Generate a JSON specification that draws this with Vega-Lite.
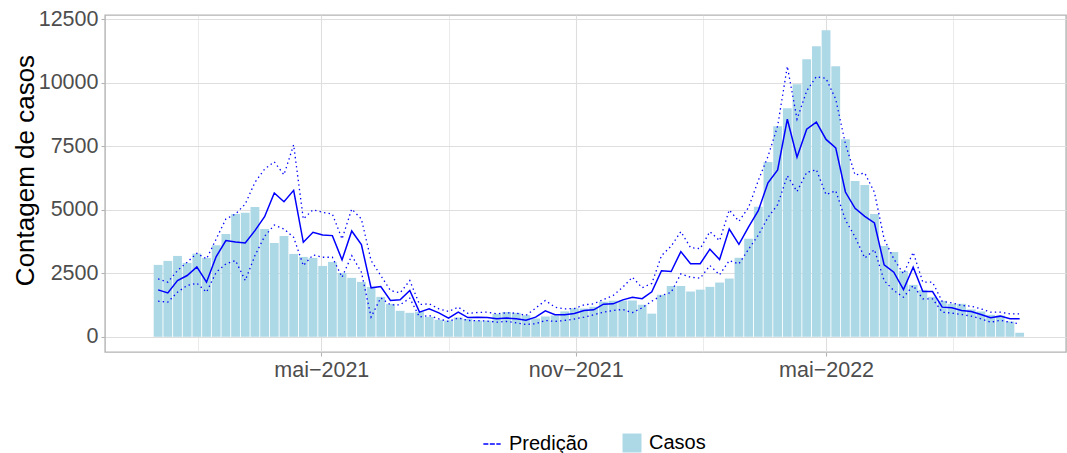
{
  "$schema": "https://vega.github.io/schema/vega-lite/v6.json",
  "width": 961,
  "height": 337,
  "autosize": {"type": "none"},
  "padding": {"left": 105, "top": 15, "right": 1, "bottom": 101},
  "background": "white",
  "config": {
    "font": "Liberation Sans",
    "view": {"stroke": "#b3b3b3", "strokeWidth": 1.4},
    "axis": {
      "domain": false,
      "gridColor": "#dedede",
      "tickColor": "#b3b3b3",
      "tickSize": 4,
      "tickWidth": 1.1,
      "labelColor": "#4d4d4d",
      "labelFontSize": 21.5,
      "labelFont": "Liberation Sans",
      "titleFont": "Liberation Sans",
      "titleColor": "#000000",
      "titleFontWeight": "normal",
      "titleFontSize": 26
    },
    "legend": {
      "labelFont": "Liberation Sans",
      "labelFontSize": 20,
      "labelColor": "#000000",
      "padding": 0,
      "title": null
    }
  },
  "data": {
    "values": [
      {"d": "2021-01-03", "casos": 2830, "pred": 1847, "sup": 2279, "inf": 1403},
      {"d": "2021-01-10", "casos": 2987, "pred": 1729, "sup": 2149, "inf": 1363},
      {"d": "2021-01-17", "casos": 3183, "pred": 2214, "sup": 2607, "inf": 1756},
      {"d": "2021-01-24", "casos": 2908, "pred": 2411, "sup": 2935, "inf": 2017},
      {"d": "2021-01-31", "casos": 3275, "pred": 2751, "sup": 3288, "inf": 2110},
      {"d": "2021-02-07", "casos": 3105, "pred": 2149, "sup": 3065, "inf": 1756},
      {"d": "2021-02-14", "casos": 3600, "pred": 3157, "sup": 3851, "inf": 2541},
      {"d": "2021-02-21", "casos": 4048, "pred": 3786, "sup": 4637, "inf": 2869},
      {"d": "2021-02-28", "casos": 4834, "pred": 3734, "sup": 4834, "inf": 3000},
      {"d": "2021-03-07", "casos": 4887, "pred": 3694, "sup": 5227, "inf": 2214},
      {"d": "2021-03-14", "casos": 5109, "pred": 4178, "sup": 6079, "inf": 3196},
      {"d": "2021-03-21", "casos": 4244, "pred": 4729, "sup": 6602, "inf": 3956},
      {"d": "2021-03-28", "casos": 3694, "pred": 5659, "sup": 6889, "inf": 4402},
      {"d": "2021-04-04", "casos": 3970, "pred": 5318, "sup": 6378, "inf": 4244},
      {"d": "2021-04-11", "casos": 3262, "pred": 5764, "sup": 7557, "inf": 3917},
      {"d": "2021-04-18", "casos": 3144, "pred": 3720, "sup": 4637, "inf": 2803},
      {"d": "2021-04-25", "casos": 3105, "pred": 4113, "sup": 5003, "inf": 3223},
      {"d": "2021-05-02", "casos": 2790, "pred": 4009, "sup": 4900, "inf": 3131},
      {"d": "2021-05-09", "casos": 2948, "pred": 3983, "sup": 4834, "inf": 3131},
      {"d": "2021-05-16", "casos": 2515, "pred": 3026, "sup": 3851, "inf": 2345},
      {"d": "2021-05-23", "casos": 2319, "pred": 4166, "sup": 5030, "inf": 3196},
      {"d": "2021-05-30", "casos": 2161, "pred": 3629, "sup": 4637, "inf": 2541},
      {"d": "2021-06-06", "casos": 1965, "pred": 1926, "sup": 3000, "inf": 773},
      {"d": "2021-06-13", "casos": 1572, "pred": 1979, "sup": 2411, "inf": 1533},
      {"d": "2021-06-20", "casos": 1297, "pred": 1428, "sup": 1821, "inf": 1258},
      {"d": "2021-06-27", "casos": 1022, "pred": 1454, "sup": 1729, "inf": 1258},
      {"d": "2021-07-04", "casos": 943, "pred": 1821, "sup": 2214, "inf": 1520},
      {"d": "2021-07-11", "casos": 983, "pred": 969, "sup": 1271, "inf": 773},
      {"d": "2021-07-18", "casos": 786, "pred": 1100, "sup": 1297, "inf": 838},
      {"d": "2021-07-25", "casos": 668, "pred": 943, "sup": 1100, "inf": 707},
      {"d": "2021-08-01", "casos": 641, "pred": 734, "sup": 996, "inf": 600},
      {"d": "2021-08-08", "casos": 760, "pred": 969, "sup": 1166, "inf": 740},
      {"d": "2021-08-15", "casos": 700, "pred": 755, "sup": 920, "inf": 640},
      {"d": "2021-08-22", "casos": 641, "pred": 765, "sup": 955, "inf": 635},
      {"d": "2021-08-29", "casos": 641, "pred": 760, "sup": 970, "inf": 616},
      {"d": "2021-09-05", "casos": 904, "pred": 707, "sup": 904, "inf": 577},
      {"d": "2021-09-12", "casos": 975, "pred": 734, "sup": 943, "inf": 603},
      {"d": "2021-09-19", "casos": 943, "pred": 707, "sup": 930, "inf": 550},
      {"d": "2021-09-26", "casos": 850, "pred": 655, "sup": 838, "inf": 485},
      {"d": "2021-10-03", "casos": 720, "pred": 773, "sup": 1127, "inf": 511},
      {"d": "2021-10-10", "casos": 800, "pred": 1022, "sup": 1428, "inf": 642},
      {"d": "2021-10-17", "casos": 840, "pred": 865, "sup": 1166, "inf": 603},
      {"d": "2021-10-24", "casos": 1000, "pred": 865, "sup": 1100, "inf": 642},
      {"d": "2021-10-31", "casos": 1120, "pred": 920, "sup": 1110, "inf": 700},
      {"d": "2021-11-07", "casos": 1110, "pred": 1035, "sup": 1258, "inf": 773},
      {"d": "2021-11-14", "casos": 1180, "pred": 1061, "sup": 1297, "inf": 865},
      {"d": "2021-11-21", "casos": 1380, "pred": 1284, "sup": 1467, "inf": 970},
      {"d": "2021-11-28", "casos": 1420, "pred": 1297, "sup": 1624, "inf": 1035},
      {"d": "2021-12-05", "casos": 1428, "pred": 1454, "sup": 1952, "inf": 1074},
      {"d": "2021-12-12", "casos": 1428, "pred": 1559, "sup": 2345, "inf": 950},
      {"d": "2021-12-19", "casos": 1260, "pred": 1500, "sup": 1930, "inf": 1140},
      {"d": "2021-12-26", "casos": 910, "pred": 1770, "sup": 2100, "inf": 1400},
      {"d": "2022-01-02", "casos": 1655, "pred": 2600, "sup": 3196, "inf": 1624},
      {"d": "2022-01-09", "casos": 2000, "pred": 2568, "sup": 3570, "inf": 1750},
      {"d": "2022-01-16", "casos": 2000, "pred": 3354, "sup": 4140, "inf": 2475},
      {"d": "2022-01-23", "casos": 1782, "pred": 2875, "sup": 3510, "inf": 2345},
      {"d": "2022-01-30", "casos": 1855, "pred": 2875, "sup": 3470, "inf": 2306},
      {"d": "2022-02-06", "casos": 1965, "pred": 3450, "sup": 4140, "inf": 2804},
      {"d": "2022-02-13", "casos": 2135, "pred": 3039, "sup": 3786, "inf": 2437},
      {"d": "2022-02-20", "casos": 2293, "pred": 4244, "sup": 4991, "inf": 3000},
      {"d": "2022-02-27", "casos": 3110, "pred": 3640, "sup": 4546, "inf": 2869},
      {"d": "2022-03-06", "casos": 3858, "pred": 4330, "sup": 5096, "inf": 3450},
      {"d": "2022-03-13", "casos": 5115, "pred": 4965, "sup": 6150, "inf": 4000},
      {"d": "2022-03-20", "casos": 6885, "pred": 6060, "sup": 7100, "inf": 4700},
      {"d": "2022-03-27", "casos": 8292, "pred": 6570, "sup": 8300, "inf": 5200},
      {"d": "2022-04-03", "casos": 9000, "pred": 8567, "sup": 10650, "inf": 6340},
      {"d": "2022-04-10", "casos": 9943, "pred": 7070, "sup": 8567, "inf": 5720},
      {"d": "2022-04-17", "casos": 10925, "pred": 8174, "sup": 9680, "inf": 6471},
      {"d": "2022-04-24", "casos": 11436, "pred": 8450, "sup": 10245, "inf": 6576},
      {"d": "2022-05-01", "casos": 12065, "pred": 7770, "sup": 10170, "inf": 5600},
      {"d": "2022-05-08", "casos": 10650, "pred": 7440, "sup": 9353, "inf": 5750},
      {"d": "2022-05-15", "casos": 7781, "pred": 5700, "sup": 7600, "inf": 4600},
      {"d": "2022-05-22", "casos": 6131, "pred": 5057, "sup": 6370, "inf": 3930},
      {"d": "2022-05-29", "casos": 5974, "pred": 4743, "sup": 6445, "inf": 3100},
      {"d": "2022-06-05", "casos": 4834, "pred": 4480, "sup": 5686, "inf": 3430},
      {"d": "2022-06-12", "casos": 3576, "pred": 2830, "sup": 3851, "inf": 2214},
      {"d": "2022-06-19", "casos": 3341, "pred": 2542, "sup": 3065, "inf": 1821},
      {"d": "2022-06-26", "casos": 2594, "pred": 1860, "sup": 2476, "inf": 1559},
      {"d": "2022-07-03", "casos": 2044, "pred": 2738, "sup": 3327, "inf": 2017},
      {"d": "2022-07-10", "casos": 1847, "pred": 1782, "sup": 2149, "inf": 1493},
      {"d": "2022-07-17", "casos": 1572, "pred": 1782, "sup": 2149, "inf": 1493},
      {"d": "2022-07-24", "casos": 1415, "pred": 1166, "sup": 1389, "inf": 969},
      {"d": "2022-07-31", "casos": 1297, "pred": 1140, "sup": 1336, "inf": 930},
      {"d": "2022-08-07", "casos": 1297, "pred": 1035, "sup": 1231, "inf": 878},
      {"d": "2022-08-14", "casos": 1074, "pred": 996, "sup": 1205, "inf": 812},
      {"d": "2022-08-21", "casos": 996, "pred": 878, "sup": 1100, "inf": 707},
      {"d": "2022-08-28", "casos": 865, "pred": 747, "sup": 969, "inf": 576},
      {"d": "2022-09-04", "casos": 838, "pred": 812, "sup": 969, "inf": 642},
      {"d": "2022-09-11", "casos": 603, "pred": 707, "sup": 904, "inf": 576},
      {"d": "2022-09-18", "casos": 157, "pred": 707, "sup": 904, "inf": 511}
    ]
  },
  "encoding": {
    "x": {
      "field": "d",
      "type": "temporal",
      "scale": {"type": "utc", "domain": [1606625280000, 1666042560000]},
      "axis": {
        "title": null,
        "values": [1612137600000, 1619827200000, 1627776000000, 1635724800000, 1643673600000, 1651363200000, 1659312000000],
        "labelExpr": "(utcmonth(datum.value) == 1 || utcmonth(datum.value) == 7) ? '' : ['jan','fev','mar','abr','mai','jun','jul','ago','set','out','nov','dez'][utcmonth(datum.value)] + '\u2212' + utcyear(datum.value)",
        "labelPadding": 3,
        "gridWidth": {"condition": {"test": "utcmonth(datum.value) == 4 || utcmonth(datum.value) == 10", "value": 1.1}, "value": 0.6},
        "tickOpacity": {"condition": {"test": "utcmonth(datum.value) == 4 || utcmonth(datum.value) == 10", "value": 1}, "value": 0}
      }
    }
  },
  "layer": [
    {
      "mark": {"type": "bar", "width": 8.8},
      "encoding": {
        "y": {
          "field": "casos",
          "type": "quantitative",
          "scale": {"domain": [-600, 12670], "nice": false, "zero": false},
          "axis": {
            "title": "Contagem de casos",
            "values": [0, 1250, 2500, 3750, 5000, 6250, 7500, 8750, 10000, 11250, 12500],
            "format": "d",
            "labelExpr": "datum.value % 2500 == 0 ? datum.label : ''",
            "gridWidth": {"condition": {"test": "datum.value % 2500 == 0", "value": 1.1}, "value": 0.6},
            "tickOpacity": {"condition": {"test": "datum.value % 2500 == 0", "value": 1}, "value": 0},
            "labelPadding": 3,
            "titleX": -80,
            "titleY": 155,
            "titleAngle": 270,
            "titleAlign": "center",
            "titleBaseline": "middle"
          }
        },
        "fill": {
          "datum": "Casos",
          "type": "nominal",
          "scale": {"domain": ["Casos"], "range": ["#add8e6"]},
          "legend": {"orient": "none", "legendX": 517, "legendY": 418, "symbolType": "square", "symbolSize": 360, "symbolStrokeWidth": 0, "labelOffset": 7}
        }
      }
    },
    {
      "mark": {"type": "line", "color": "#0000ff", "strokeWidth": 1.3, "strokeDash": [1.4, 3.2]},
      "encoding": {"y": {"field": "sup", "type": "quantitative"}}
    },
    {
      "mark": {"type": "line", "color": "#0000ff", "strokeWidth": 1.3, "strokeDash": [1.4, 3.2]},
      "encoding": {"y": {"field": "inf", "type": "quantitative"}}
    },
    {
      "mark": {"type": "line", "strokeWidth": 1.5},
      "encoding": {
        "y": {"field": "pred", "type": "quantitative"},
        "stroke": {
          "datum": "Predição",
          "type": "nominal",
          "scale": {"domain": ["Predição"], "range": ["#0000ff"]},
          "legend": {"orient": "none", "legendX": 377, "legendY": 419, "symbolType": "stroke", "symbolSize": 300, "symbolStrokeWidth": 1.5, "symbolDash": [5, 1.5], "labelOffset": 7}
        }
      }
    }
  ]
}
